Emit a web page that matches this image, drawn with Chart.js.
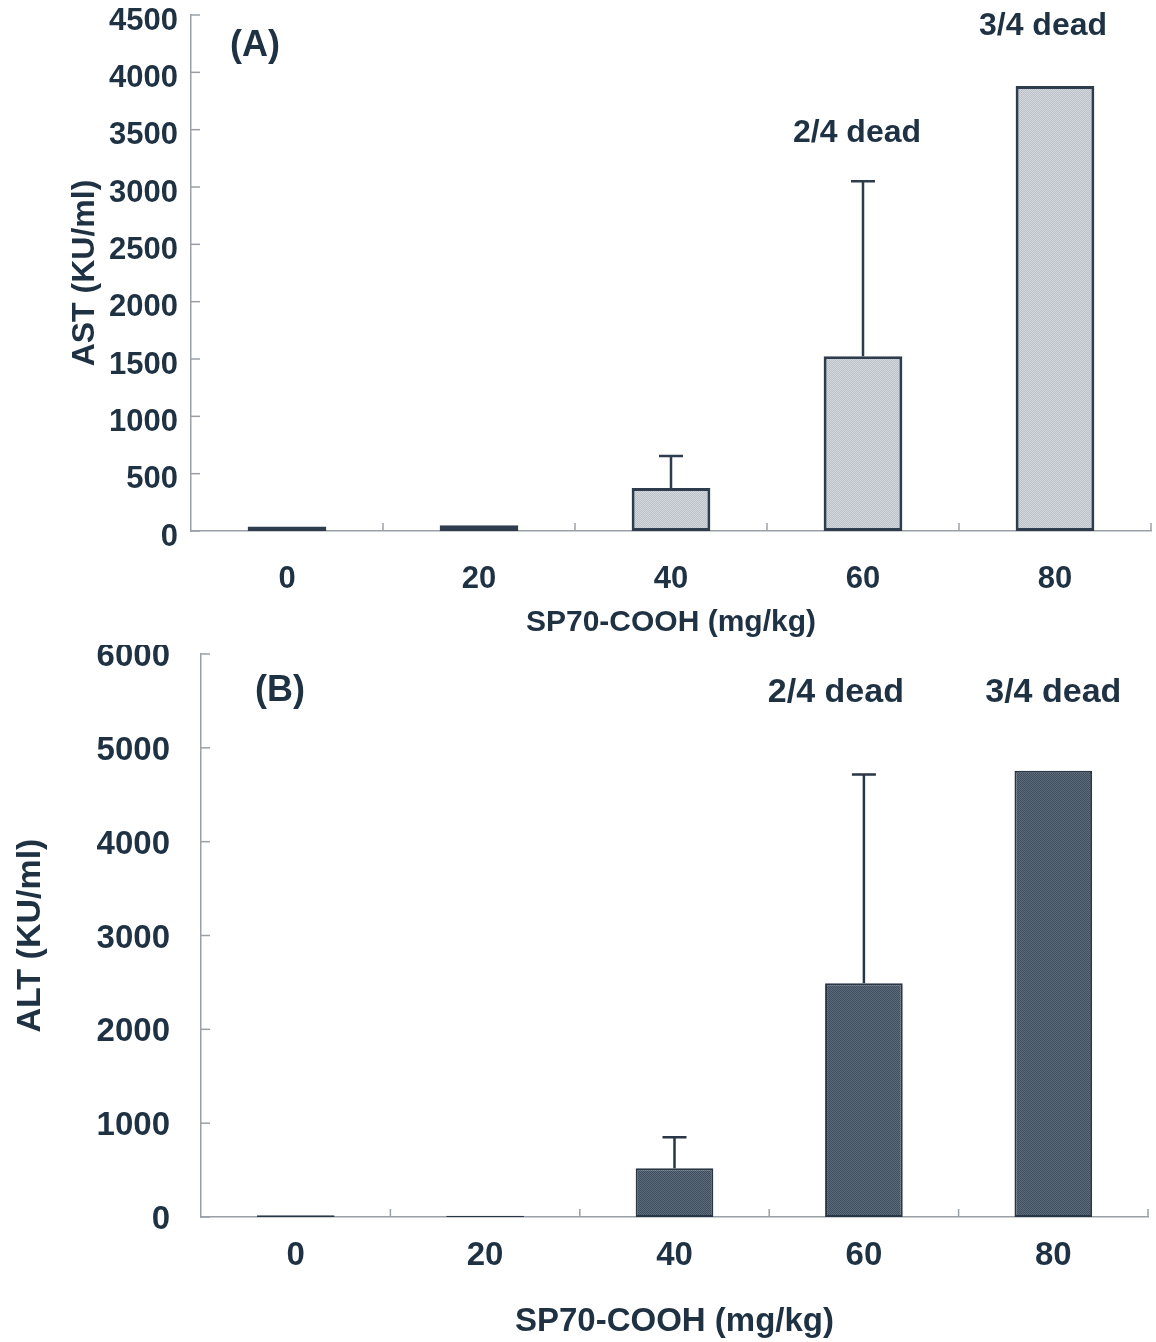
<!DOCTYPE html>
<html>
<head>
<meta charset="utf-8">
<script src="https://cdn.jsdelivr.net/npm/chart.js@4.4.0/dist/chart.umd.min.js"></script>
<style>
  body { margin: 0; background: #fff; }
  canvas { display: block; }
</style>
</head>
<body>
<canvas id="astChart" width="1156" height="645"></canvas>
<canvas id="altChart" width="1156" height="697"></canvas>
<script>
// dose groups (mg/kg)
const doses = ['0', '20', '40', '60', '80'];

// (A) AST, KU/ml: mean and SD (upper bar only)
const astMean = [40, 50, 375, 1525, 3880];
const astSD = [0, 0, 280, 1525, 0];

// (B) ALT, KU/ml
const altMean = [18, 12, 520, 2490, 4755];
const altSD = [0, 0, 330, 2225, 0];

// notes over the bars: [dose index, text, y value]
const astNotes = [[3, '2/4 dead', 3470], [4, '3/4 dead', 4400]];
const altNotes = [[3, '2/4 dead', 5590], [4, '3/4 dead', 5590]];

const textColor = '#1f3243';
const axisColor = '#9aa0a6';
const fontFamily = "'Liberation Sans', Arial, sans-serif";

// dithered fill like the scanned print
function dither(c1, c2) {
    const p = document.createElement('canvas');
    p.width = 2; p.height = 2;
    const g = p.getContext('2d');
    g.fillStyle = c1; g.fillRect(0, 0, 2, 2);
    g.fillStyle = c2; g.fillRect(0, 0, 1, 1); g.fillRect(1, 1, 1, 1);
    return g.createPattern(p, 'repeat');
}

// error bars, inward tick marks, panel letter and notes
const extras = {
    id: 'extras',
    afterDatasetsDraw(chart, args, opts) {
        const ctx = chart.ctx;
        const x = chart.scales.x, y = chart.scales.y;
        const meta = chart.getDatasetMeta(0);
        ctx.save();
        ctx.strokeStyle = opts.errColor;
        ctx.lineWidth = 2.5;
        opts.sd.forEach((s, i) => {
            if (!s) return;
            const bar = meta.data[i];
            const yTop = y.getPixelForValue(opts.mean[i] + s);
            ctx.beginPath();
            ctx.moveTo(bar.x, bar.y);
            ctx.lineTo(bar.x, yTop);
            ctx.moveTo(bar.x - 12, yTop);
            ctx.lineTo(bar.x + 12, yTop);
            ctx.stroke();
        });
        // tick marks pointing into the plot
        ctx.strokeStyle = axisColor;
        ctx.lineWidth = 1.5;
        y.ticks.forEach((t, i) => {
            const py = y.getPixelForTick(i);
            ctx.beginPath();
            ctx.moveTo(x.left, py);
            ctx.lineTo(x.left + 9, py);
            ctx.stroke();
        });
        const step = (x.right - x.left) / doses.length;
        for (let i = 1; i <= doses.length; i++) {
            const px = x.left + step * i;
            ctx.beginPath();
            ctx.moveTo(px, y.bottom);
            ctx.lineTo(px, y.bottom - 8);
            ctx.stroke();
        }
        ctx.fillStyle = textColor;
        ctx.textAlign = 'center';
        ctx.textBaseline = 'middle';
        ctx.font = 'bold ' + opts.letterSize + 'px ' + fontFamily;
        ctx.fillText(opts.letter, x.left + opts.letterDx, y.getPixelForValue(opts.letterY));
        ctx.font = 'bold ' + opts.noteSize + 'px ' + fontFamily;
        opts.notes.forEach((n, k) => {
            const px = x.getPixelForValue(n[0]) + opts.noteDx[k];
            ctx.fillText(n[1], px, y.getPixelForValue(n[2]));
        });
        ctx.restore();
    }
};

function makeChart(id, cfg) {
    return new Chart(document.getElementById(id), {
        type: 'bar',
        data: {
            labels: doses,
            datasets: [{
                data: cfg.mean,
                backgroundColor: cfg.fill,
                borderColor: cfg.edge,
                borderWidth: cfg.edgeWidth,
                borderSkipped: false,
                categoryPercentage: 1,
                barPercentage: 0.41
            }]
        },
        options: {
            responsive: false,
            animation: false,
            events: [],
            layout: { padding: { left: 0, right: cfg.padRight, top: cfg.padTop, bottom: 0 } },
            plugins: {
                legend: { display: false },
                tooltip: { enabled: false },
                extras: cfg.extras
            },
            scales: {
                x: {
                    grid: { display: false, drawTicks: false },
                    border: { display: true, color: axisColor, width: 1.5 },
                    ticks: { color: textColor, padding: cfg.xTickPad, font: { family: fontFamily, size: cfg.tickSize, weight: 'bold' } },
                    title: {
                        display: true, text: 'SP70-COOH (mg/kg)', color: textColor,
                        padding: { top: 0, bottom: cfg.xTitlePad },
                        font: { family: fontFamily, size: cfg.xTitleSize, weight: 'bold' }
                    },
                    afterFit: (s) => { s.height = cfg.xHeight; s.paddingLeft = 0; s.paddingRight = 0; }
                },
                y: {
                    min: 0, max: cfg.max,
                    grid: { display: false, drawTicks: false },
                    border: { display: true, color: axisColor, width: 1.5 },
                    ticks: {
                        stepSize: cfg.step, color: textColor, padding: cfg.yTickPad, labelOffset: cfg.yLabelOffset,
                        callback: (v) => String(v),
                        font: { family: fontFamily, size: cfg.tickSize, weight: 'bold' }
                    },
                    title: {
                        display: true, text: cfg.yTitle, color: textColor,
                        padding: { top: cfg.yTitlePad, bottom: 0 },
                        font: { family: fontFamily, size: cfg.yTitleSize, weight: 'bold' }
                    },
                    afterFit: (s) => { s.width = cfg.yWidth; s.paddingTop = 0; s.paddingBottom = 0; }
                }
            }
        },
        plugins: [extras]
    });
}

makeChart('astChart', {
    mean: astMean,
    fill: dither('#bcc2c9', '#d3d7dc'),
    edge: '#2e3d4d',
    edgeWidth: 3,
    max: 4500, step: 500,
    yTitle: 'AST (KU/ml)',
    padRight: 5, padTop: 15,
    xHeight: 114, xTickPad: 30, xTitlePad: 4,
    yWidth: 191, yTickPad: 13, yLabelOffset: 6, yTitlePad: 66,
    tickSize: 31, xTitleSize: 30, yTitleSize: 32,
    extras: {
        mean: astMean, sd: astSD, errColor: '#2e3d4d',
        letter: '(A)', letterDx: 64, letterY: 4230, letterSize: 36,
        notes: astNotes, noteDx: [-6, -12], noteSize: 32
    }
});

makeChart('altChart', {
    mean: altMean,
    fill: dither('#3f4e5f', '#5e6b7a'),
    edge: '#283646',
    edgeWidth: 2,
    max: 6000, step: 1000,
    yTitle: 'ALT (KU/ml)',
    padRight: 8, padTop: 9,
    xHeight: 125, xTickPad: 19, xTitlePad: 0,
    yWidth: 201, yTickPad: 31, yLabelOffset: 3, yTitlePad: 10,
    tickSize: 33, xTitleSize: 33, yTitleSize: 34,
    extras: {
        mean: altMean, sd: altSD, errColor: '#283646',
        letter: '(B)', letterDx: 79, letterY: 5600, letterSize: 36,
        notes: altNotes, noteDx: [-28, 0], noteSize: 34
    }
});
</script>
</body>
</html>
